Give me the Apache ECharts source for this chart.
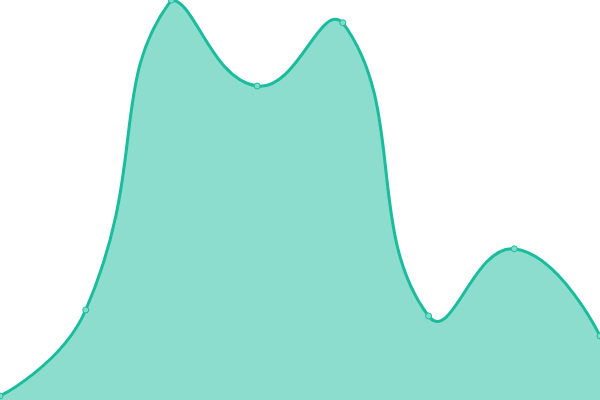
<!DOCTYPE html>
<html><head><meta charset="utf-8">
<script src="https://cdn.jsdelivr.net/npm/echarts@6/dist/echarts.min.js"></script>
<style>html,body{margin:0;padding:0;background:#fff}#c{width:600px;height:400px}</style>
</head><body><div id="c"></div>
<script>
const categories = ['A','B','C','D','E','F','G','H'];
const values = [1, 22.5, 100, 78.5, 94.3, 21, 37.8, 16];

const LINE = '#1abc9c';
const AREA = 'rgba(26,188,156,0.5)';
const SMOOTH = 0.5;

// Bezier path through points, control points constrained to the bounding box of all points
function smoothPath(pts) {
  let minX = Infinity, minY = Infinity, maxX = -Infinity, maxY = -Infinity;
  pts.forEach(p => { minX = Math.min(minX, p[0]); maxX = Math.max(maxX, p[0]); minY = Math.min(minY, p[1]); maxY = Math.max(maxY, p[1]); });
  const clamp = (c) => [Math.max(minX, Math.min(maxX, c[0])), Math.max(minY, Math.min(maxY, c[1]))];
  const segs = [];
  let cp0 = pts[0].slice();
  for (let i = 1; i < pts.length; i++) {
    const p = pts[i], prev = pts[i - 1], next = pts[i + 1];
    let cp1, v = [0, 0], ratio = 0.5;
    if (!next) {
      cp1 = p.slice();
    } else {
      v = [next[0] - prev[0], next[1] - prev[1]];
      const lp = Math.hypot(p[0] - prev[0], p[1] - prev[1]);
      const ln = Math.hypot(p[0] - next[0], p[1] - next[1]);
      ratio = ln / (ln + lp);
      cp1 = [p[0] - v[0] * SMOOTH * (1 - ratio), p[1] - v[1] * SMOOTH * (1 - ratio)];
    }
    segs.push([clamp(cp0), clamp(cp1), p]);
    cp0 = [p[0] + v[0] * SMOOTH * ratio, p[1] + v[1] * SMOOTH * ratio];
  }
  return segs;
}

const chart = echarts.init(document.getElementById('c'));
chart.setOption({
  animation: false,
  grid: {left: 0, right: 0, top: 0, bottom: 0},
  xAxis: {type: 'category', data: categories, boundaryGap: false, show: false},
  yAxis: {type: 'value', min: 0, max: 100, show: false},
  series: [{
    type: 'custom',
    data: values.map((v, i) => [i, v]),
    clip: false,
    renderItem: function (params, api) {
      const idx = params.dataIndexInside;
      const pt = api.coord([api.value(0), api.value(1)]);
      const children = [];
      if (idx === 0) {
        const n = params.dataInsideLength;
        const pts = [];
        for (let i = 0; i < n; i++) pts.push(api.coord([api.value(0, i), api.value(1, i)]));
        const base = api.coord([0, 0])[1];
        const segs = smoothPath(pts);
        let line = 'M' + pts[0][0] + ' ' + pts[0][1];
        segs.forEach(s => { line += ' C' + s[0].join(' ') + ' ' + s[1].join(' ') + ' ' + s[2].join(' '); });
        const area = line + ' L' + pts[n - 1][0] + ' ' + base + ' L' + pts[0][0] + ' ' + base + ' Z';
        children.push({
          type: 'path',
          shape: {pathData: area},
          style: {fill: AREA, stroke: null}
        });
        children.push({
          type: 'path',
          shape: {pathData: line},
          style: {fill: null, stroke: LINE, lineWidth: 3}
        });
      }
      children.push({
        type: 'circle',
        shape: {cx: pt[0], cy: pt[1], r: 3},
        style: {fill: '#7fdcc8', stroke: LINE, lineWidth: 1}
      });
      return {type: 'group', children: children};
    }
  }]
});
</script></body></html>
